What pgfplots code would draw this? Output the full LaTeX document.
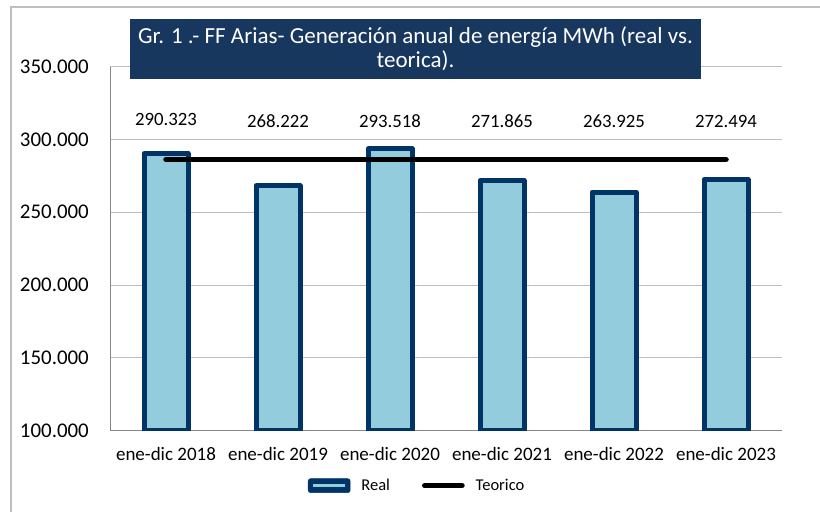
\documentclass[border=0pt]{standalone}
\usepackage{fontspec}
\setmainfont{Carlito}
\usepackage{pgfplots}
\pgfplotsset{compat=1.18}
\definecolor{barfill}{RGB}{147,205,221}
\definecolor{barline}{RGB}{0,51,102}
\definecolor{titlebg}{RGB}{23,55,94}
\definecolor{gridc}{RGB}{191,191,191}
\definecolor{axisc}{RGB}{134,134,134}
\begin{document}
\begin{tikzpicture}[x=1bp,y=1bp]
\useasboundingbox (0,0) rectangle (820,512);
\draw[gridc, line width=1.2bp] (11,0) -- (11,505) -- (820,505);
\begin{axis}[
  at={(110bp,81.3bp)}, anchor=south west,
  scale only axis, width=672bp, height=364bp,
  xmin=-0.5, xmax=5.5, ymin=100000, ymax=350000,
  ytick={100000,150000,200000,250000,300000,350000},
  scaled y ticks=false,
  xtick={0,1,2,3,4,5},
  xticklabels={ene-dic 2018,ene-dic 2019,ene-dic 2020,ene-dic 2021,ene-dic 2022,ene-dic 2023},
  ymajorgrids, grid style={gridc, line width=1bp},
  axis x line*=bottom, axis y line*=left,
  axis line style={axisc, line width=1bp},
  major tick length=0pt,
  /pgf/number format/assume math mode=true,
  /pgf/number format/fixed,
  /pgf/number format/precision=0,
  /pgf/number format/1000 sep={.},
  yticklabel style={font=\fontsize{20.9bp}{24bp}\selectfont, anchor=east, inner sep=0pt, xshift=-21bp},
  xticklabel style={font=\fontsize{19bp}{22bp}\selectfont, anchor=north, inner sep=0pt, yshift=-16bp},
  legend columns=2,
  legend style={at={(0.457,-0.151)}, anchor=center, draw=none, fill=none,
    font=\fontsize{16.5bp}{19bp}\selectfont,
    /tikz/every odd column/.append style={column sep=9bp},
    /tikz/every even column/.append style={column sep=30bp}},
]
\addplot[ybar, bar width=44bp, fill=barfill, draw=barline, line width=5bp, line join=round,
  legend image code/.code={
    \draw[fill=barline, draw=barline, line width=0.5bp, rounded corners=2.5bp] (0bp,-7bp) rectangle (42bp,7bp);
    \draw[barfill, line width=2.5bp] (5bp,0bp) -- (37bp,0bp);}]
  coordinates {(0,290323) (1,268222) (2,293518) (3,271865) (4,263925) (5,272494)};
\addlegendentry{Real}
\addplot[black, line width=5.5bp, line cap=round,
  legend image code/.code={
    \draw[black, line width=5.5bp, line cap=round] (2.75bp,0bp) -- (40bp,0bp);}]
  coordinates {(0,286300) (5,286300)};
\addlegendentry{Teorico}
\addplot[draw=none, mark=none, forget plot, nodes near coords, point meta=explicit symbolic,
  nodes near coords style={anchor=center, inner sep=0pt, text=black, font=\fontsize{18.8bp}{22bp}\selectfont}]
  coordinates {(0,313600)[290.323] (1,312500)[268.222] (2,312500)[293.518] (3,312500)[271.865] (4,312500)[263.925] (5,312500)[272.494]};
\end{axis}
\node[fill=titlebg, text=white, minimum width=571bp, minimum height=60bp, inner sep=0pt, align=center,
  font=\fontsize{23bp}{24bp}\selectfont] at (415.5,463) {Gr. 1 .- FF Arias- Generación anual de energía MWh (real vs.\\teorica).};
\end{tikzpicture}
\end{document}
